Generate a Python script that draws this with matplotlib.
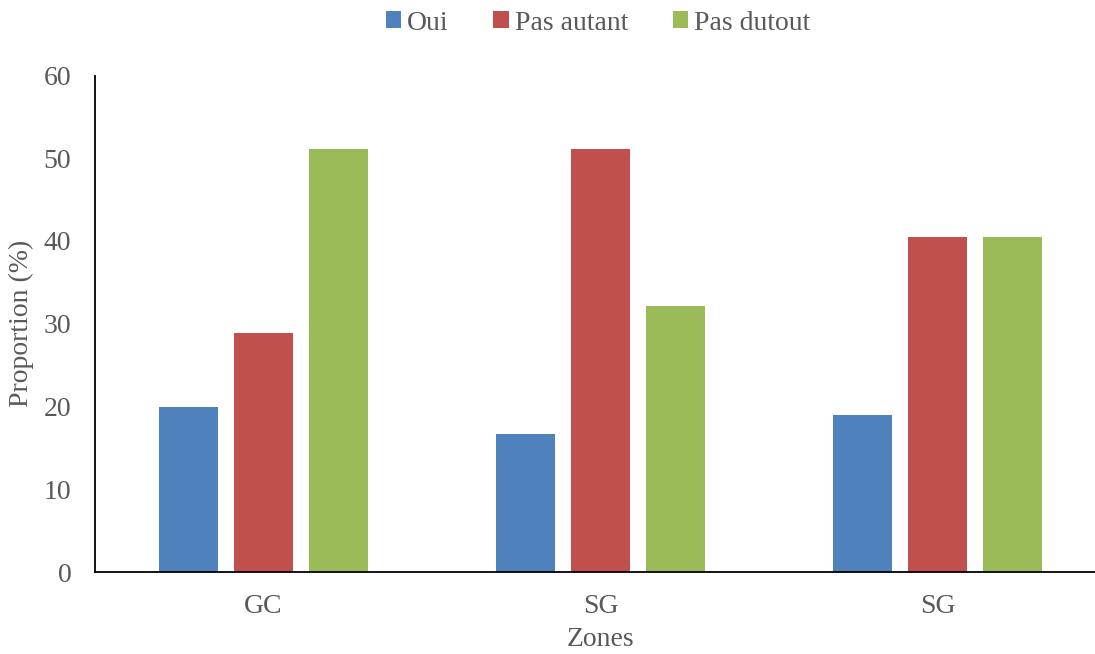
import matplotlib
matplotlib.use("Agg")
import matplotlib.pyplot as plt
import numpy as np

zones = ["GC", "SG", "SG"]
series_names = ["Oui", "Pas autant", "Pas dutout"]
oui = [20.0, 16.7, 19.0]
pas_autant = [28.9, 51.1, 40.5]
pas_dutout = [51.1, 32.2, 40.5]
y_ticks = [0, 10, 20, 30, 40, 50, 60]

colors = ["#4F81BD", "#C0504D", "#9BBB59"]
text_color = "#595959"

plt.rcParams["font.family"] = ["Liberation Serif", "DejaVu Serif"]

W, H = 1095, 654
fig = plt.figure(figsize=(W / 100, H / 100), dpi=100)
ax_w = 1011
ax_h = 572 - 75.5
ax = fig.add_axes([95 / W, 1 - 572 / H, ax_w / W, ax_h / H])

x = np.arange(len(zones))
width = 0.175
step = 0.2226
for i, (name, vals) in enumerate(zip(series_names, [oui, pas_autant, pas_dutout])):
    ax.bar(x + (i - 1) * step, vals, width=width, color=colors[i], label=name,
           edgecolor="none", zorder=2)

ax.set_xlim(-0.5, 2.5)
ax.set_ylim(0, 60)
ax.set_yticks(y_ticks)
ax.set_xticks(x)
ax.set_xticklabels(zones)
ax.tick_params(axis="both", length=0, labelsize=20, colors=text_color)
ax.tick_params(axis="y", pad=17)
ax.tick_params(axis="x", pad=16)

for side in ["top", "right"]:
    ax.spines[side].set_visible(False)
for side in ["left", "bottom"]:
    ax.spines[side].set_color("black")
    ax.spines[side].set_linewidth(1.3)

ylab = ax.set_ylabel("Proportion (%)", fontsize=20, color=text_color)
ylab.set_va("center")
ax.yaxis.set_label_coords(-(95 - 21) / ax_w, 0.5)
xlab = ax.set_xlabel("Zones", fontsize=20, color=text_color)
xlab.set_va("center")
ax.xaxis.set_label_coords((600 - 95) / ax_w, -(640 - 572) / ax_h)

leg = fig.legend(loc="center", bbox_to_anchor=(598 / W, 1 - 23 / H), ncol=3,
                 frameon=False, fontsize=20, handlelength=0.55, handleheight=0.55,
                 handletextpad=0.22, columnspacing=1.6)
for t in leg.get_texts():
    t.set_color(text_color)

fig.savefig("out.png", dpi=100)
